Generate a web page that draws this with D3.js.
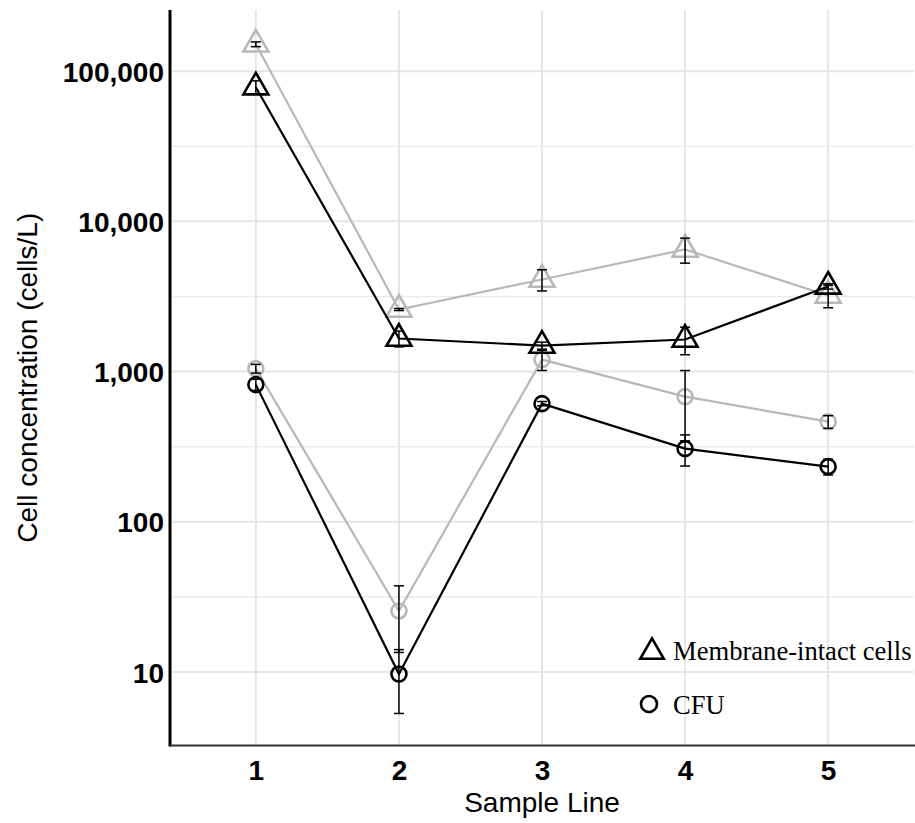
<!DOCTYPE html>
<html lang="en">
<head>
<meta charset="UTF-8" />
<title>Cell concentration</title>
<style>
  body { margin: 0; background: #fff; }
  .tick-label { font-family: "Liberation Sans", Arial, sans-serif; font-weight: bold; font-size: 28px; fill: #000; }
  .axis-title { font-family: "Liberation Sans", Arial, sans-serif; font-size: 28px; fill: #000; }
  .legend-text { font-family: "Liberation Serif", "Times New Roman", serif; font-size: 26.6px; fill: #000; }
</style>
</head>
<body>
<script src="https://cdn.jsdelivr.net/npm/d3@7/dist/d3.min.js"></script>
<script>
// sample lines on the x axis
var sampleLines = [1, 2, 3, 4, 5];

// membrane-intact cells (cells/L)
var greyIntact = [151000, 2590, 4100, 6500, 3210];
var greyIntactErr = [5500, 40, 660, 1230, 550];
var blackIntact = [78200, 1660, 1490, 1635, 3690];
var blackIntactErr = [8000, 200, 80, 340, 150];

// CFU (cells/L)
var greyCFU = [1047, 25.5, 1202, 681, 464];
var greyCFUErr = [70, 12, 185, 335, 45];
var blackCFU = [819, 9.7, 612, 307, 233];
var blackCFUErr = [70, 4.4, 20, 72, 28];

var yTicks = [10, 100, 1000, 10000, 100000];
var yMinor = [Math.sqrt(1000), Math.sqrt(100000), Math.sqrt(1e7), Math.sqrt(1e9)];

var w = 915, h = 823;
// panel edges (plain names like "top" clash with window.top)
var padL = 170, padR = 914, padT = 10, padB = 745.5;

var svg = d3.select("body").append("svg")
  .attr("width", w)
  .attr("height", h);

var xScale = d3.scaleLinear().domain([0.4, 5.6]).range([padL, padR]);
var yScale = d3.scaleLog().domain([Math.pow(10, 0.511), Math.pow(10, 5.407)]).range([padB, padT]);

// grid
svg.append("g").selectAll("line.minor")
  .data(yMinor).enter().append("line")
  .attr("x1", padL).attr("x2", padR)
  .attr("y1", function(d) { return yScale(d); })
  .attr("y2", function(d) { return yScale(d); })
  .style("stroke", "#ebebeb").style("stroke-width", 1.5);

svg.append("g").selectAll("line.major")
  .data(yTicks).enter().append("line")
  .attr("x1", padL).attr("x2", padR)
  .attr("y1", function(d) { return yScale(d); })
  .attr("y2", function(d) { return yScale(d); })
  .style("stroke", "#e6e6e6").style("stroke-width", 2);

svg.append("g").selectAll("line.vgrid")
  .data(sampleLines).enter().append("line")
  .attr("y1", padT).attr("y2", padB)
  .attr("x1", function(d) { return xScale(d); })
  .attr("x2", function(d) { return xScale(d); })
  .style("stroke", "#e6e6e6").style("stroke-width", 2);

// axes
var yAxis = d3.axisLeft(yScale).tickValues(yTicks).tickSize(0).tickPadding(6)
  .tickFormat(d3.format(",d"));
var gy = svg.append("g").attr("transform", "translate(" + padL + ",0)").call(yAxis);
gy.select(".domain").remove();
gy.selectAll("text").attr("class", "tick-label").attr("fill", null).attr("dy", "0.36em");

var xAxis = d3.axisBottom(xScale).tickValues(sampleLines).tickSize(0).tickPadding(15)
  .tickFormat(d3.format("d"));
var gx = svg.append("g").attr("transform", "translate(0," + padB + ")").call(xAxis);
gx.select(".domain").remove();
gx.selectAll("text").attr("class", "tick-label").attr("fill", null);

svg.append("line")
  .attr("x1", padL).attr("x2", padL).attr("y1", padT).attr("y2", padB + 1)
  .style("stroke", "#000").style("stroke-width", 3);
svg.append("line")
  .attr("x1", padL).attr("x2", w).attr("y1", padB).attr("y2", padB)
  .style("stroke", "#333").style("stroke-width", 2);

svg.append("text").attr("class", "axis-title")
  .attr("text-anchor", "middle")
  .attr("x", (padL + padR) / 2).attr("y", 812)
  .text("Sample Line");

svg.append("text").attr("class", "axis-title")
  .attr("text-anchor", "middle")
  .attr("transform", "translate(37," + ((padT + padB) / 2) + ") rotate(-90)")
  .text("Cell concentration (cells/L)");

// series
var series = [
  { vals: greyIntact, err: greyIntactErr, color: "#b8b8b8", shape: "tri" },
  { vals: greyCFU, err: greyCFUErr, color: "#b8b8b8", shape: "circ" },
  { vals: blackIntact, err: blackIntactErr, color: "#000", shape: "tri" },
  { vals: blackCFU, err: blackCFUErr, color: "#000", shape: "circ" }
];

var line = d3.line()
  .x(function(d, i) { return xScale(sampleLines[i]); })
  .y(function(d) { return yScale(d); });

var tri = d3.symbol().type(d3.symbolTriangle).size(270);

series.forEach(function(s) {
  svg.append("path")
    .datum(s.vals)
    .attr("d", line)
    .style("fill", "none")
    .style("stroke", s.color)
    .style("stroke-width", 2.2);

  if (s.shape == "tri") {
    svg.append("g").selectAll("path")
      .data(s.vals).enter().append("path")
      .attr("d", tri)
      .attr("transform", function(d, i) { return "translate(" + xScale(sampleLines[i]) + "," + yScale(d) + ")"; })
      .style("fill", "none").style("stroke", s.color).style("stroke-width", 2.6);
  } else {
    svg.append("g").selectAll("circle")
      .data(s.vals).enter().append("circle")
      .attr("cx", function(d, i) { return xScale(sampleLines[i]); })
      .attr("cy", function(d) { return yScale(d); })
      .attr("r", 7.5)
      .style("fill", "none").style("stroke", s.color).style("stroke-width", 2.6);
  }
});

// error bars (drawn black on top)
series.forEach(function(s) {
  var g = svg.append("g").style("stroke", "#000").style("stroke-width", 1.5);
  s.vals.forEach(function(v, i) {
    var x = xScale(sampleLines[i]);
    var y1 = yScale(v + s.err[i]), y2 = yScale(v - s.err[i]);
    g.append("line").attr("x1", x).attr("x2", x).attr("y1", y1).attr("y2", y2);
    g.append("line").attr("x1", x - 5).attr("x2", x + 5).attr("y1", y1).attr("y2", y1);
    g.append("line").attr("x1", x - 5).attr("x2", x + 5).attr("y1", y2).attr("y2", y2);
  });
});

// legend
var legend = svg.append("g");
legend.append("path")
  .attr("d", d3.symbol().type(d3.symbolTriangle).size(240))
  .attr("transform", "translate(652,652)")
  .style("fill", "none").style("stroke", "#000").style("stroke-width", 2.6);
legend.append("text").attr("class", "legend-text")
  .attr("x", 673).attr("y", 660).text("Membrane-intact cells");
legend.append("circle")
  .attr("cx", 649).attr("cy", 704).attr("r", 8)
  .style("fill", "none").style("stroke", "#000").style("stroke-width", 2.6);
legend.append("text").attr("class", "legend-text")
  .attr("x", 673).attr("y", 714).text("CFU");
</script>
</body>
</html>
